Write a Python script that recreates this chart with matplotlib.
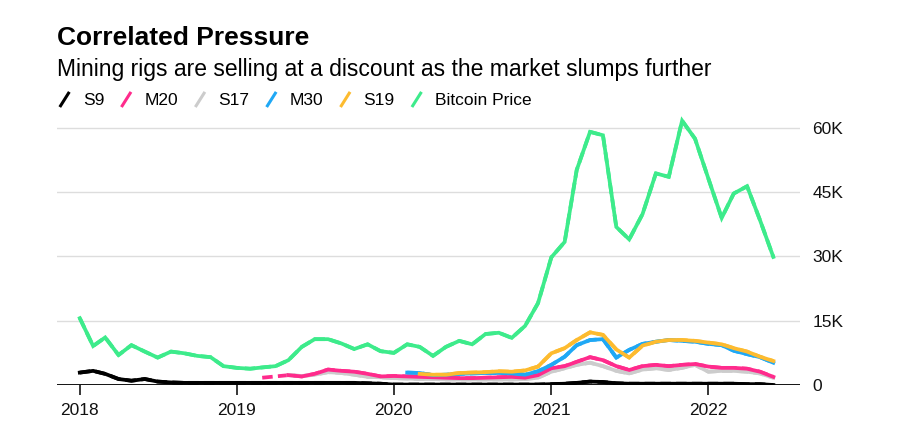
import numpy as np
import pandas as pd
import matplotlib
matplotlib.use('Agg')
import matplotlib.pyplot as plt
import matplotlib.ticker as ticker
import matplotlib.dates as mdates
from matplotlib.lines import Line2D
from matplotlib.legend_handler import HandlerBase

plt.rcParams['font.family'] = ['Liberation Sans', 'DejaVu Sans']

# monthly, Jan 2018 .. Jun 2022 (values in thousand USD)
months = pd.date_range('2018-01-01', '2022-06-01', freq='MS')
nan = np.nan

bitcoin = [15.6, 9.1, 11.1, 7.0, 9.3, 7.8, 6.4, 7.8, 7.4, 6.8, 6.5, 4.4,
           4.0, 3.8, 4.1, 4.4, 5.8, 8.9, 10.7, 10.7, 9.7, 8.4, 9.5, 7.9,
           7.5, 9.5, 8.9, 6.8, 8.9, 10.3, 9.5, 11.9, 12.2, 11.0, 13.8, 19.1,
           29.8, 33.4, 50.2, 59.1, 58.3, 36.9, 34.0, 39.9, 49.4, 48.6, 61.7, 57.5,
           48.2, 39.0, 44.7, 46.4, 38.5, 29.9]

s9 = [2.9, 3.3, 2.6, 1.4, 1.0, 1.4, 0.8, 0.6, 0.5, 0.5, 0.5, 0.5,
      0.5, 0.5, 0.5, 0.5, 0.5, 0.5, 0.5, 0.5, 0.5, 0.5, 0.4, 0.3,
      0.1, 0.1, 0.1, 0.1, 0.1, 0.1, 0.1, 0.1, 0.1, 0.1, 0.1, 0.1,
      0.2, 0.3, 0.5, 0.8, 0.7, 0.4, 0.3, 0.3, 0.3, 0.3, 0.3, 0.3,
      0.3, 0.3, 0.3, 0.2, 0.2, 0.0]

m20 = [nan] * 12 + \
      [nan, nan, 1.7, nan, 2.3, 2.0, 2.6, 3.6, 3.3, 3.1, 2.6, 2.0,
       2.1, 2.0, 1.9, 1.8, 1.7, 1.6, 1.6, 1.7, 1.8, 1.9, 1.7, 2.3,
       3.9, 4.4, 5.4, 6.5, 5.8, 4.4, 3.5, 4.4, 4.7, 4.4, 4.7, 4.9,
       4.3, 4.0, 4.0, 3.8, 3.1, 1.9]

s17 = [nan] * 12 + \
      [nan, nan, nan, nan, 2.3, 2.1, 2.4, 3.0, 2.8, 2.4, 1.9, 1.8,
       1.6, 1.5, 1.4, 1.4, 1.3, 1.3, 1.3, 1.3, 1.3, 1.3, 1.4, 1.7,
       3.1, 3.9, 4.7, 5.2, 4.4, 3.3, 2.7, 3.6, 3.9, 3.5, 4.0, 4.7,
       3.1, 3.3, 3.3, 3.1, 2.7, 1.7]

m30 = [nan] * 24 + \
      [nan, 2.9, 2.8, 2.3, 2.4, 2.6, 2.7, 2.8, 2.8, 2.7, 2.4, 3.2,
       4.7, 6.6, 9.3, 10.5, 10.7, 6.4, 8.2, 9.6, 10.1, 10.5, 10.3, 10.1,
       9.6, 9.3, 8.0, 7.2, 6.5, 5.2]

s19 = [nan] * 24 + \
      [nan, nan, 2.6, 2.4, 2.4, 2.8, 2.9, 3.0, 3.2, 3.1, 3.4, 4.3,
       7.4, 8.6, 10.5, 12.3, 11.7, 8.3, 6.4, 9.2, 10.1, 10.5, 10.5, 10.3,
       9.9, 9.5, 8.6, 7.8, 6.6, 5.6]

labels = ['S9', 'M20', 'S17', 'M30', 'S19', 'Bitcoin Price']
colors = ['#000000', '#ff2b8c', '#cccccc', '#1fa8f5', '#fdbb2f', '#3deb8b']

yticks = [0, 15000, 30000, 45000, 60000]
years = [2018, 2019, 2020, 2021, 2022]


class SlashHandler(HandlerBase):
    def create_artists(self, legend, orig_handle, xdescent, ydescent,
                       width, height, fontsize, trans):
        x0 = -xdescent
        y0 = -ydescent
        ln = Line2D([x0 + width * 0.25, x0 + width * 0.75],
                    [y0 - height * 0.05, y0 + height * 1.0],
                    color=orig_handle.get_color(), lw=2.2,
                    solid_capstyle='butt', transform=trans)
        return [ln]


fig = plt.figure(figsize=(9, 4.48), dpi=100)
ax = fig.add_axes([57 / 900, 1 - 385 / 448, 743 / 900, 275 / 448])

x = np.array(months)
k = 1000.0
lw = 2.7

series = {}
series['Bitcoin Price'] = np.array(bitcoin) * k
series['S17'] = np.array(s17) * k
series['M20'] = np.array(m20) * k
series['M30'] = np.array(m30) * k
series['S19'] = np.array(s19) * k
series['S9'] = np.array(s9) * k

order = ['Bitcoin Price', 'S17', 'M20', 'M30', 'S19', 'S9']
for name in order:
    y = series[name]
    c = colors[labels.index(name)]
    ok = ~np.isnan(y)
    # dashed bridge over missing months
    ax.plot(x[ok], y[ok], color=c, lw=lw, dashes=(2.8, 1.4), zorder=3)
    ax.plot(x, y, color=c, lw=lw, solid_joinstyle='miter', zorder=4)

ax.axhline(0, color='black', lw=1.3, zorder=2)

ax.set_xlim(pd.Timestamp('2017-11-09'), pd.Timestamp('2022-08-02'))
ax.set_ylim(0, 64200)

ax.set_yticks(yticks)
ax.yaxis.set_major_formatter(ticker.FuncFormatter(
    lambda v, p: '0' if v == 0 else '%dK' % (v / 1000)))
ax.yaxis.tick_right()
ax.tick_params(axis='y', length=0, pad=9, labelsize=12.5, labelcolor='#111111')
ax.grid(axis='y', color='#dddddd', lw=1)
ax.set_axisbelow(True)

ax.set_xticks([pd.Timestamp('%d-01-01' % yr) for yr in years])
ax.xaxis.set_major_formatter(mdates.DateFormatter('%Y'))
ax.tick_params(axis='x', length=7, width=1.1, color='black', pad=6,
               labelsize=12.5, labelcolor='#111111')

for s in ax.spines.values():
    s.set_visible(False)

fig.text(57 / 900, 1 - 45 / 448, 'Correlated Pressure', fontsize=19,
         fontweight='bold', color='black', va='baseline')
fig.text(57 / 900, 1 - 76 / 448,
         'Mining rigs are selling at a discount as the market slumps further',
         fontsize=16.5, color='black', va='baseline')

handles = [Line2D([], [], color=c) for c in colors]
fig.legend(handles, labels, handler_map={Line2D: SlashHandler()},
           loc='center left', bbox_to_anchor=(55 / 900, 1 - 100 / 448),
           ncol=6, frameon=False, fontsize=12.5, handlelength=1.1,
           handletextpad=0.5, columnspacing=0.72, borderpad=0,
           borderaxespad=0, handleheight=0.9)

fig.savefig('out.png', dpi=100)
